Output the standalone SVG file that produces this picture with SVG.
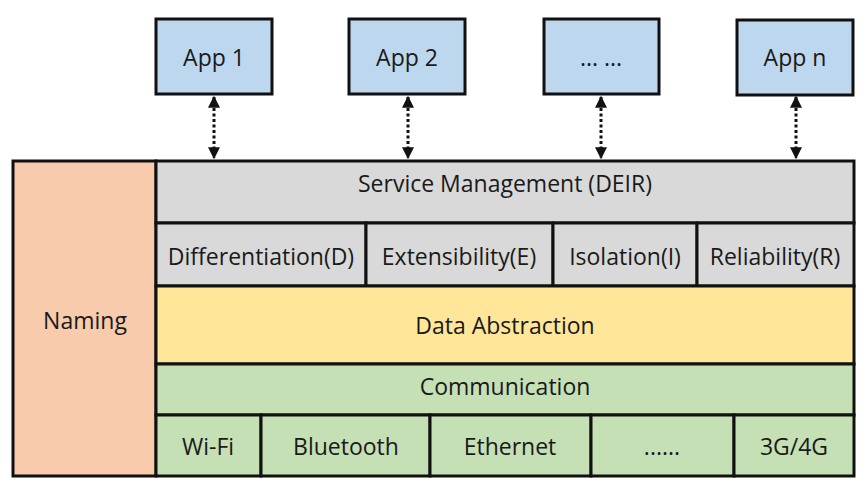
<svg xmlns="http://www.w3.org/2000/svg" width="868" height="498" viewBox="0 0 868 498">
<style>
text{font-family:"Open Sans","Liberation Sans",sans-serif;font-size:23px;fill:#1a1a1a;text-anchor:middle;dominant-baseline:central}
.b{stroke:#111;stroke-width:3}
.app{fill:#bdd7ee}
.gray{fill:#d9d9d9}
.yel{fill:#ffe699}
.grn{fill:#c5e0b4}
.nam{fill:#f8cbad}
.c{stroke:#111;stroke-width:3;stroke-dasharray:3 2.5;fill:none;marker-start:url(#ah);marker-end:url(#ah)}
</style>
<defs>
<marker id="ah" viewBox="0 0 10 10" refX="9" refY="5" markerWidth="4" markerHeight="4" orient="auto-start-reverse" markerUnits="strokeWidth">
<path d="M0,0 L10,5 L0,10 Z" fill="#111"/>
</marker>
</defs>
<rect width="868" height="498" fill="#fff"/>
<g id="app1"><rect class="b app" x="156" y="19" width="116" height="75"/><text x="214" y="57">App 1</text></g>
<g id="app2"><rect class="b app" x="349" y="19" width="116" height="75"/><text x="407" y="57">App 2</text></g>
<g id="app3"><rect class="b app" x="544" y="19" width="115" height="75"/><text x="601" y="57">... ...</text></g>
<g id="appn"><rect class="b app" x="737" y="20" width="116" height="75"/><text x="795" y="57">App n</text></g>
<g id="connectors">
<line class="c" x1="214" y1="97" x2="214" y2="158"/>
<line class="c" x1="408" y1="97" x2="408" y2="158"/>
<line class="c" x1="601" y1="97" x2="601" y2="158"/>
<line class="c" x1="796" y1="97" x2="796" y2="158"/>
</g>
<g id="naming"><rect class="b nam" x="13" y="161" width="143" height="315"/><text x="85" y="320">Naming</text></g>
<g id="service"><rect class="b gray" x="156" y="161" width="698" height="62"/><text x="505" y="183">Service Management (DEIR)</text></g>
<g id="diff"><rect class="b gray" x="156" y="223" width="210" height="63"/><text x="261" y="256">Differentiation(D)</text></g>
<g id="ext"><rect class="b gray" x="366" y="223" width="187" height="63"/><text x="459" y="256">Extensibility(E)</text></g>
<g id="iso"><rect class="b gray" x="553" y="223" width="144" height="63"/><text x="625" y="256">Isolation(I)</text></g>
<g id="rel"><rect class="b gray" x="697" y="223" width="157" height="63"/><text x="775" y="256">Reliability(R)</text></g>
<g id="data"><rect class="b yel" x="156" y="286" width="698" height="78"/><text x="505" y="325">Data Abstraction</text></g>
<g id="comm"><rect class="b grn" x="156" y="364" width="698" height="51"/><text x="505" y="386">Communication</text></g>
<g id="wifi"><rect class="b grn" x="156" y="415" width="105" height="61"/><text x="208" y="446">Wi-Fi</text></g>
<g id="bt"><rect class="b grn" x="261" y="415" width="169" height="61"/><text x="346" y="446">Bluetooth</text></g>
<g id="eth"><rect class="b grn" x="430" y="415" width="161" height="61"/><text x="510" y="446">Ethernet</text></g>
<g id="dots"><rect class="b grn" x="591" y="415" width="143" height="61"/><text x="662" y="446">......</text></g>
<g id="g34"><rect class="b grn" x="734" y="415" width="120" height="61"/><text x="794" y="446">3G/4G</text></g>
</svg>
